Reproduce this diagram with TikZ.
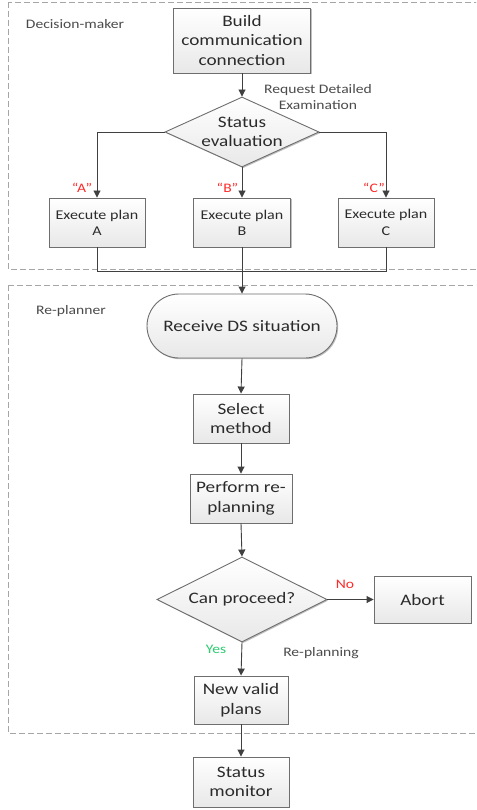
\documentclass[tikz,border=0pt]{standalone}
\usepackage{fontspec}
\setmainfont{Carlito}[FakeStretch=1.2]
\usetikzlibrary{shapes.geometric,arrows.meta,shadows}
\definecolor{edgecol}{HTML}{6E6E6E}
\definecolor{txtcol}{HTML}{2B2B2B}
\definecolor{arrcol}{HTML}{404040}
\definecolor{dashcol}{HTML}{A6A6A6}
\definecolor{redlab}{HTML}{FF2A2A}
\definecolor{greenlab}{HTML}{2ECC71}
\tikzset{
  procbox/.style={draw=edgecol, line width=0.9pt, top color=white, bottom color=black!9,
    drop shadow={shadow xshift=1.2pt, shadow yshift=-1.2pt, opacity=0.25, fill=black},
    text=txtcol, align=center, inner sep=0pt, font=\fontsize{16}{19.5}\selectfont},
  decbox/.style={procbox, diamond},
  termbox/.style={procbox, rounded corners=32pt},
  smallbox/.style={procbox, font=\fontsize{13.4}{16.3}\selectfont},
  conn/.style={draw=arrcol, line width=0.9pt},
  arr/.style={conn, -{Triangle[length=7pt,width=7pt]}},
  region/.style={draw=dashcol, line width=0.9pt, dash pattern=on 6pt off 3pt},
  note/.style={text=txtcol!85, align=center, font=\fontsize{13}{16}\selectfont, inner sep=0pt},
  redtxt/.style={text=redlab, font=\fontsize{13}{16}\selectfont, inner sep=0pt},
  greentxt/.style={text=greenlab, font=\fontsize{13}{16}\selectfont, inner sep=0pt},
}
\begin{document}
\begin{tikzpicture}[x=1pt,y=-1pt]
\useasboundingbox (0,0) rectangle (476,810);
\clip (0,0) rectangle (476,810);
\fill[white] (0,0) rectangle (476,810);
% regions
\draw[region] (8,2) rectangle (490,269);
\draw[region] (8,285) rectangle (490,733);
\node[note, anchor=center] (lblDM) at (75,24) {Decision-maker};
\node[note, anchor=center] (lblRP) at (71,311) {Re-planner};
% nodes
\node[procbox, minimum width=137pt, minimum height=65pt] (build) at (242,40.5) {Build\\communication\\connection};
\node[decbox, minimum width=154pt, minimum height=70pt, aspect=2.2] (eval) at (242,132) {Status\\evaluation};
\node[smallbox, minimum width=96pt, minimum height=49pt] (pa) at (97,222.5) {Execute plan\\A};
\node[smallbox, minimum width=97pt, minimum height=49pt] (pb) at (242,222.5) {Execute plan\\B};
\node[smallbox, minimum width=96pt, minimum height=49pt] (pc) at (386,222.5) {Execute plan\\C};
\coordinate (jl) at (97,271);
\coordinate (jm) at (242,271);
\coordinate (jr) at (386,271);
\node[termbox, minimum width=190pt, minimum height=64pt] (recv) at (242,326) {Receive DS situation};
\node[procbox, minimum width=96pt, minimum height=49pt] (sel) at (241,418.5) {Select\\method};
\node[procbox, minimum width=102pt, minimum height=49pt] (perf) at (241,498.5) {Perform re-\\planning};
\node[decbox, minimum width=170pt, minimum height=85pt, aspect=2] (can) at (242,599.5) {Can proceed?};
\node[procbox, minimum width=97pt, minimum height=47pt] (abort) at (422.5,599.5) {Abort};
\node[procbox, minimum width=94pt, minimum height=48pt] (newp) at (241,700) {New valid\\plans};
\node[procbox, minimum width=96pt, minimum height=50pt] (mon) at (241,782) {Status\\monitor};
% labels
\node[note] (req) at (318,97) {Request Detailed\\Examination};
\node[redtxt] (la) at (82,188) {“A”};
\node[redtxt] (lb) at (227.5,188) {“B”};
\node[redtxt] (lc) at (374,188) {“C”};
\node[redtxt] (lno) at (345,584) {No};
\node[greentxt] (lyes) at (216,649) {Yes};
\node[note] (lrep) at (321,653) {Re-planning};
% connectors
\draw[arr] (build.south) -- (eval.north);
\draw[arr] (eval.west) -| (pa.north);
\draw[arr] (eval.east) -| (pc.north);
\draw[arr] (eval.south) -- (pb.north);
\draw[conn] (pa.south) -- (jl) -- (jr) -- (pc.south);
\draw[conn] (pb.south) -- (jm);
\draw[arr] (jm) -- (recv.north);
\draw[arr] (recv.south) -- (sel.north);
\draw[arr] (sel.south) -- (perf.north);
\draw[arr] (perf.south) -- (can.north);
\draw[arr] (can.east) -- (abort.west);
\draw[arr] (can.south) -- (newp.north);
\draw[arr] (newp.south) -- (mon.north);
\end{tikzpicture}
\end{document}
